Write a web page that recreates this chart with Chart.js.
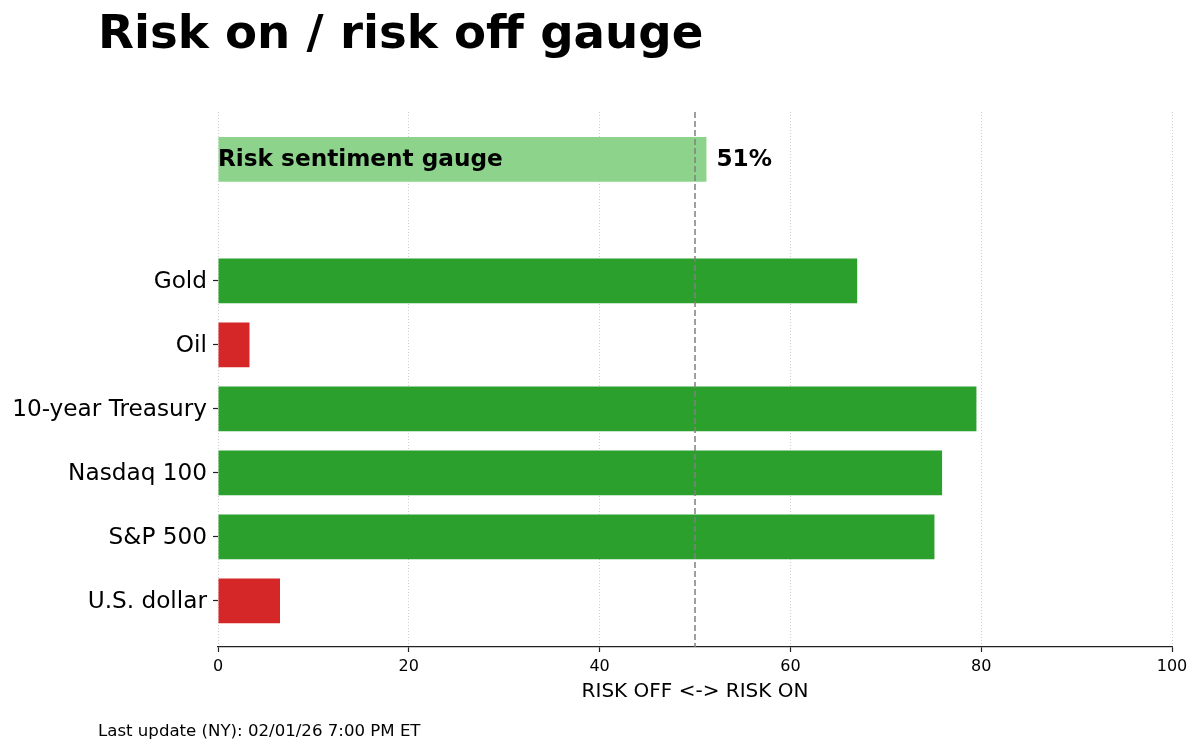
<!DOCTYPE html>
<html>
<head>
<meta charset="utf-8">
<script src="https://cdn.jsdelivr.net/npm/chart.js@4.4.1/dist/chart.umd.min.js"></script>
<style>
  html, body { margin: 0; padding: 0; background: #fff; }
  #wrap { position: relative; width: 1200px; height: 752px; overflow: hidden; }
  #c { position: absolute; left: 0; top: 0; }
  .title { position: absolute; left: 98px; top: 9px; font-family: "DejaVu Sans", sans-serif; font-weight: bold; font-size: 46.7px; line-height: 46.7px; color: #000; white-space: nowrap; }
  .foot { position: absolute; left: 98px; top: 723px; font-family: "DejaVu Sans", sans-serif; font-size: 16.6px; line-height: 16.6px; color: #000; white-space: nowrap; }
</style>
</head>
<body>
<div id="wrap">
  <canvas id="c" width="1200" height="752"></canvas>
  <div class="title">Risk on / risk off gauge</div>
  <div class="foot">Last update (NY): 02/01/26 7:00 PM ET</div>
</div>
<script>
// ---- data ----
const categories = ["U.S. dollar", "S&P 500", "Nasdaq 100", "10-year Treasury", "Oil", "Gold"];
const positions = [0, 1, 2, 3, 4, 5];
const scores = [6.5, 75.1, 75.9, 79.5, 3.3, 67.0];
const gaugeLabel = "Risk sentiment gauge";
const gaugeValue = 51.2;
const gaugePosition = 6.9;
const xTicks = [0, 20, 40, 60, 80, 100];
const neutralLine = 50;
const xTitle = "RISK OFF <-> RISK ON";

const GREEN = "#2ca02c", RED = "#d62728", LIGHT = "#8dd38c";
const assetColors = scores.map(v => v >= neutralLine ? GREEN : RED);

const overlay = {
  id: "overlay",
  afterDatasetsDraw(chart) {
    const { ctx, chartArea, scales } = chart;
    const x50 = scales.x.getPixelForValue(neutralLine);
    ctx.save();
    ctx.strokeStyle = "#808080";
    ctx.lineWidth = 1.5;
    ctx.setLineDash([6, 3]);
    ctx.beginPath();
    ctx.moveTo(x50, chartArea.top);
    ctx.lineTo(x50, chartArea.bottom);
    ctx.stroke();
    ctx.restore();
    const bar = chart.getDatasetMeta(0).data[0];
    ctx.save();
    ctx.font = "bold 23.2px 'DejaVu Sans'";
    ctx.fillStyle = "#000";
    ctx.textBaseline = "middle";
    ctx.textAlign = "left";
    ctx.fillText(gaugeLabel, scales.x.getPixelForValue(0), bar.y + 1);
    ctx.fillText(Math.round(gaugeValue) + "%", bar.x + 10, bar.y + 1);
    ctx.restore();
  }
};

new Chart(document.getElementById("c"), {
  type: "bar",
  data: {
    datasets: [
      {
        data: [{ x: gaugeValue, y: gaugePosition }],
        backgroundColor: LIGHT,
        barPercentage: 0.7, categoryPercentage: 1,
        grouped: false
      },
      {
        data: positions.map((p, i) => ({ x: scores[i], y: p })),
        backgroundColor: assetColors,
        barPercentage: 0.7, categoryPercentage: 1,
        grouped: false
      }
    ]
  },
  options: {
    indexAxis: "y",
    responsive: false,
    animation: false,
    events: [],
    layout: { padding: { left: 0, right: 28, top: 112, bottom: 48 } },
    plugins: { legend: { display: false }, tooltip: { enabled: false }, title: { display: false } },
    scales: {
      x: {
        type: "linear",
        min: 0, max: 100,
        z: 1,
        afterBuildTicks: s => { s.ticks = xTicks.map(v => ({ value: v })); },
        afterFit: s => { s.height = 57; },
        grid: {
          color: "rgba(195,195,195,0.8)",
          lineWidth: 1,
          tickLength: 5,
          tickColor: "#222",
          tickWidth: 1.2,
          tickBorderDash: []
        },
        border: { display: true, color: "#222", width: 1.3, dash: [1, 2] },
        ticks: { color: "#000", padding: 5, font: { family: "DejaVu Sans", size: 16 } },
        title: { display: true, text: xTitle, color: "#000", padding: 0, font: { family: "DejaVu Sans", size: 20 } }
      },
      y: {
        type: "linear",
        offset: false,
        min: -0.72, max: 7.64,
        afterBuildTicks: s => { s.ticks = positions.map(v => ({ value: v })); },
        afterFit: s => { s.width = 218; },
        grid: { offset: false, drawOnChartArea: false, tickLength: 5, tickColor: "#222", tickWidth: 1.2 },
        border: { display: false },
        ticks: {
          color: "#000", padding: 6, labelOffset: 1.5,
          font: { family: "DejaVu Sans", size: 23.2 },
          callback: v => categories[positions.indexOf(v)]
        }
      }
    }
  },
  plugins: [overlay]
});
</script>
</body>
</html>
